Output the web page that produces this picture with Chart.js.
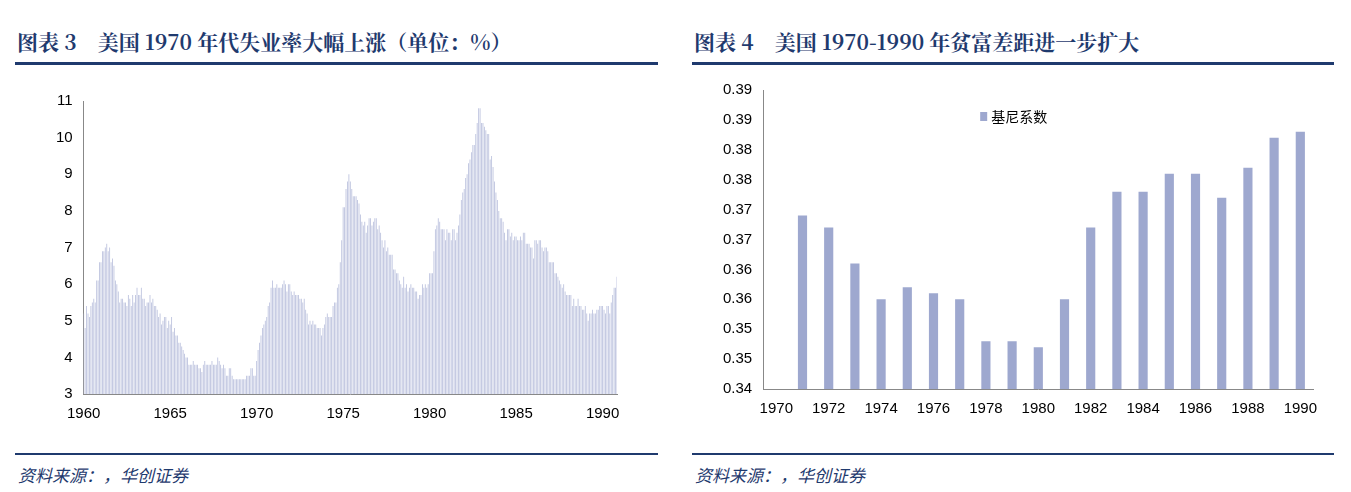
<!DOCTYPE html>
<html><head><meta charset="utf-8">
<script src="https://cdn.jsdelivr.net/npm/chart.js@4"></script>
<style>
body{margin:0;width:1351px;height:492px;background:#fff;position:relative;font-family:"Noto Sans CJK SC",sans-serif;overflow:hidden}
.t{position:absolute;top:26px;font-weight:bold;font-size:21px;color:#1f3a6e;font-family:"Noto Serif CJK SC","Noto Sans CJK SC",serif}
.ln{position:absolute;height:3px;background:#1f3a6e}
.src{position:absolute;top:462px;font-size:17px;font-style:italic;color:#1f3a6e}
.c{position:absolute}
</style></head><body>
<div class="t" style="left:17px">图表 3　美国 1970 年代失业率大幅上涨（单位：%）</div>
<div class="t" style="left:694px">图表 4　美国 1970-1990 年贫富差距进一步扩大</div>
<div class="ln" style="left:15px;width:643px;top:62px"></div>
<div class="ln" style="left:692px;width:642px;top:62px"></div>
<div class="ln" style="left:15px;width:643px;top:453px;height:2px"></div>
<div class="ln" style="left:692px;width:642px;top:453px;height:2px"></div>
<div class="src" style="left:18px">资料来源：，华创证券</div>
<div class="src" style="left:695px">资料来源：，华创证券</div>
<div class="c" style="left:53px;top:89px;width:567px;height:337px"><canvas id="a"></canvas></div>
<div class="c" style="left:720px;top:78px;width:600px;height:343px"><canvas id="b"></canvas></div>
<script>
const unemp1960s=[5.2,4.8,5.4,5.2,5.1,5.4,5.5,5.6,5.5,6.1,6.1,6.6,
6.6,6.9,6.9,7.0,7.1,6.9,7.0,6.6,6.7,6.5,6.1,6.0,
5.8,5.5,5.6,5.6,5.5,5.5,5.4,5.7,5.6,5.4,5.7,5.5,
5.7,5.9,5.7,5.7,5.9,5.6,5.6,5.4,5.5,5.5,5.7,5.5,
5.6,5.4,5.4,5.3,5.1,5.2,4.9,5.0,5.1,5.1,4.8,5.0,
4.9,5.1,4.7,4.8,4.6,4.6,4.4,4.4,4.3,4.2,4.1,4.0,
4.0,3.8,3.8,3.8,3.9,3.8,3.8,3.8,3.7,3.7,3.6,3.8,
3.9,3.8,3.8,3.8,3.8,3.9,3.8,3.8,3.8,4.0,3.9,3.8,
3.7,3.8,3.7,3.5,3.5,3.7,3.7,3.5,3.4,3.4,3.4,3.4,
3.4,3.4,3.4,3.4,3.4,3.5,3.5,3.5,3.7,3.7,3.5,3.5];
const unemp1970s=[3.9,4.2,4.4,4.6,4.8,4.9,5.0,5.1,5.4,5.5,5.9,6.1,
5.9,5.9,6.0,5.9,5.9,5.9,6.0,6.1,6.0,5.8,6.0,6.0,
5.8,5.7,5.8,5.7,5.7,5.7,5.6,5.6,5.5,5.6,5.3,5.2,
4.9,5.0,4.9,5.0,4.9,4.9,4.8,4.8,4.8,4.6,4.8,4.9,
5.1,5.2,5.1,5.1,5.1,5.4,5.5,5.5,5.9,6.0,6.6,7.2,
8.1,8.1,8.6,8.8,9.0,8.8,8.6,8.4,8.4,8.4,8.3,8.2,
7.9,7.7,7.6,7.7,7.4,7.6,7.8,7.8,7.6,7.7,7.8,7.8,
7.5,7.6,7.4,7.2,7.0,7.2,6.9,7.0,6.8,6.8,6.8,6.4,
6.4,6.3,6.3,6.1,6.0,5.9,6.2,5.9,6.0,5.8,5.9,6.0,
5.9,5.9,5.8,5.8,5.6,5.7,5.7,6.0,5.9,6.0,5.9,6.0];
const unemp1980s=[6.3,6.3,6.3,6.9,7.5,7.6,7.8,7.7,7.5,7.5,7.5,7.2,
7.5,7.4,7.4,7.2,7.5,7.5,7.2,7.4,7.6,7.9,8.3,8.5,
8.6,8.9,9.0,9.3,9.4,9.6,9.8,9.8,10.1,10.4,10.8,10.8,
10.4,10.4,10.3,10.2,10.1,10.1,9.4,9.5,9.2,8.8,8.5,8.3,
8.0,7.8,7.8,7.7,7.4,7.2,7.5,7.5,7.3,7.4,7.2,7.3,
7.3,7.2,7.2,7.3,7.2,7.4,7.4,7.1,7.1,7.1,7.0,7.0,
6.7,7.2,7.2,7.1,7.2,7.2,7.0,6.9,7.0,7.0,6.9,6.6,
6.6,6.6,6.6,6.3,6.3,6.2,6.1,6.0,5.9,6.0,5.8,5.7,
5.7,5.7,5.7,5.4,5.6,5.4,5.4,5.6,5.4,5.4,5.3,5.3,
5.4,5.2,5.0,5.2,5.2,5.3,5.2,5.2,5.3,5.3,5.4,5.4,
5.4,5.3,5.2,5.4,5.4,5.2,5.5,5.7,5.9,5.9,6.2];
const unemp=[...unemp1960s,...unemp1970s,...unemp1980s];
const months=unemp.map((v,i)=>({y:1960+Math.floor(i/12),m:i%12}));
const monthLabels=months.map(o=>o.y+'-'+(o.m+1));
const giniYears=['1970','1971','1972','1973','1974','1975','1976','1977','1978','1979','1980','1981','1982','1983','1984','1985','1986','1987','1988','1989','1990'];
const gini=[null,0.369,0.367,0.361,0.355,0.357,0.356,0.355,0.348,0.348,0.347,0.355,0.367,0.373,0.373,0.376,0.376,0.372,0.377,0.382,0.383];
const giniTickLabels=['0.34','0.35','0.35','0.36','0.36','0.37','0.37','0.38','0.38','0.39','0.39'];
const F={family:'Liberation Sans, Arial',size:15};
new Chart(document.getElementById('a'),{type:'bar',
data:{labels:monthLabels,datasets:[{data:unemp,backgroundColor:'#bcc2de',barPercentage:0.6,categoryPercentage:1}]},
options:{responsive:true,maintainAspectRatio:false,animation:false,plugins:{legend:{display:false},tooltip:{enabled:false}},
scales:{x:{offset:false,grid:{display:false},border:{color:'#888'},
ticks:{autoSkip:false,maxRotation:0,color:'#000',font:F,callback:(v,i)=>(months[i].m===0&&months[i].y%5===0)?String(months[i].y):''}},
y:{min:3,max:11,grid:{display:false},border:{color:'#888'},ticks:{stepSize:1,color:'#000',font:F}}}}});
new Chart(document.getElementById('b'),{type:'bar',
data:{labels:giniYears,datasets:[{label:'基尼系数',data:gini,backgroundColor:'#9ea8cf',barPercentage:0.7,categoryPercentage:0.5}]},
options:{responsive:true,maintainAspectRatio:false,animation:false,
plugins:{legend:{display:false},tooltip:{enabled:false}},
scales:{x:{grid:{display:false},border:{color:'#888'},ticks:{autoSkip:false,maxRotation:0,color:'#000',font:F,callback:(v,i)=>i%2===0?giniYears[i]:''}},
y:{min:0.34,max:0.39,grid:{display:false},border:{color:'#888'},ticks:{stepSize:0.005,color:'#000',font:F,callback:(v,i)=>giniTickLabels[i]}}}},
plugins:[{id:'lg',afterDraw(c){const x=c.ctx,a=c.chartArea;x.save();x.fillStyle='#9ea8cf';x.fillRect(a.left+217,a.top+22,7,9);
x.fillStyle='#000';x.font='14px "Noto Sans CJK SC"';x.textBaseline='middle';x.fillText('基尼系数',a.left+228,a.top+27);x.restore();}}]});
</script></body></html>
